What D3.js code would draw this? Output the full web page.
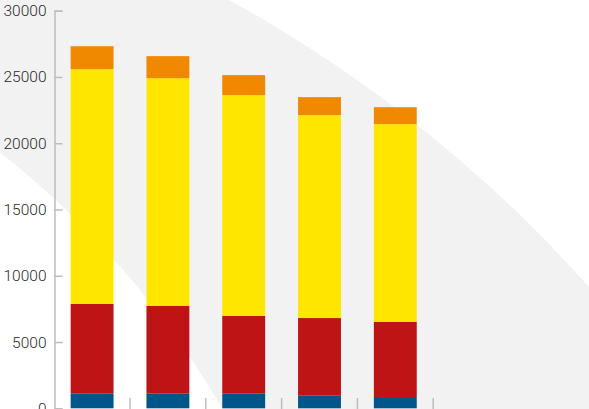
<!DOCTYPE html>
<html><head><meta charset="utf-8">
<script src="https://cdn.jsdelivr.net/npm/d3@7"></script>
<style>
html,body{margin:0;padding:0;background:#fff;overflow:hidden;}
svg{display:block;}
</style></head>
<body>
<svg id="chart" width="589" height="409"></svg>
<script>
const categories = ["1", "2", "3", "4", "5"];
const seriesNames = ["blue", "red", "yellow", "orange"];
const blueValues   = [1130, 1100, 1100, 950, 850];
const redValues    = [6740, 6640, 5880, 5860, 5680];
const yellowValues = [17720, 17170, 16650, 15310, 14910];
const orangeValues = [1730, 1660, 1510, 1360, 1280];
const yTicks = [0, 5000, 10000, 15000, 20000, 25000, 30000];
const colors = ["#00558a", "#be1415", "#ffe600", "#f08800"];

const svg = d3.select("#chart");

// decorative background band
svg.append("circle").attr("cx", -428).attr("cy", 1193).attr("r", 1362).attr("fill", "#f2f2f2");
svg.append("circle").attr("cx", -554).attr("cy", 858).attr("r", 897).attr("fill", "#ffffff");

const table = categories.map((c, i) => ({
  cat: c, blue: blueValues[i], red: redValues[i], yellow: yellowValues[i], orange: orangeValues[i]
}));
const stack = d3.stack().keys(seriesNames)(table);

const x = d3.scaleBand().domain(categories).range([54.2, 433.2]).paddingInner(0.434).paddingOuter(0.217);
const y = d3.scaleLinear().domain([0, 30000]).range([408.3, 10.7]);

const g = svg.append("g");
g.selectAll("g.series").data(stack).join("g")
  .attr("fill", (d, i) => colors[i])
  .selectAll("rect").data(d => d).join("rect")
  .attr("x", d => x(d.data.cat))
  .attr("width", x.bandwidth())
  .attr("y", d => y(d[1]))
  .attr("height", d => y(d[0]) - y(d[1]));

// y axis
const yAxis = svg.append("g").attr("transform", "translate(54.5,0)")
  .call(d3.axisRight(y).tickValues(yTicks).tickSize(8).tickSizeOuter(8).tickPadding(0).tickFormat(d3.format("d")));
yAxis.select(".domain").attr("stroke", "#bdbdbd").attr("stroke-width", 1.5);
yAxis.selectAll(".tick line").attr("stroke", "#bdbdbd").attr("stroke-width", 1.5);
yAxis.selectAll(".tick text")
  .attr("x", -8).attr("text-anchor", "end")
  .attr("fill", "#2a2a2a")
  .style("font-family", "Roboto, sans-serif").style("font-weight", 300).style("font-size", "15.5px");

// x ticks at band boundaries
const step = x.step();
svg.append("g").selectAll("line").data(categories).join("line")
  .attr("x1", d => x(d) + x.bandwidth() + (step - x.bandwidth()) / 2)
  .attr("x2", d => x(d) + x.bandwidth() + (step - x.bandwidth()) / 2)
  .attr("y1", 398).attr("y2", 409)
  .attr("stroke", "#bdbdbd").attr("stroke-width", 1.5);
</script>
</body></html>
